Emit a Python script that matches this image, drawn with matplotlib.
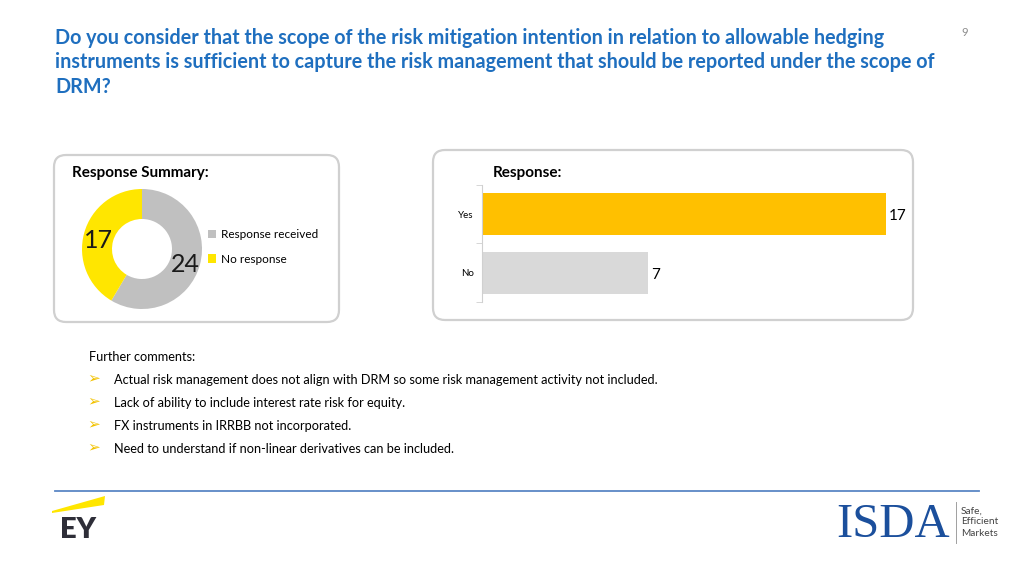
import matplotlib
matplotlib.use("Agg")
import matplotlib.pyplot as plt
from matplotlib.patches import FancyBboxPatch, Polygon, Patch
from matplotlib.transforms import Affine2D

plt.rcParams['font.family'] = ['Lato', 'DejaVu Sans']

# data
title = ("Do you consider that the scope of the risk mitigation intention in relation to allowable hedging\n"
         "instruments is sufficient to capture the risk management that should be reported under the scope of\n"
         "DRM?")
summary_labels = ['Response received', 'No response']
summary_values = [24, 17]
summary_colors = ['#C0C0C0', '#FFE600']
resp_labels = ['Yes', 'No']
resp_values = [17, 7]
resp_colors = ['#FFC000', '#D9D9D9']
comments = [
    "Actual risk management does not align with DRM so some risk management activity not included.",
    "Lack of ability to include interest rate risk for equity.",
    "FX instruments in IRRBB not incorporated.",
    "Need to understand if non-linear derivatives can be included.",
]

W, H = 1024, 575
fig = plt.figure(figsize=(W / 100, H / 100), dpi=100)
# pixel coords from top-left
pix = Affine2D().scale(1 / 100.0).scale(1, -1).translate(0, H / 100.0) + fig.dpi_scale_trans


def fx(x):
    return x / W


def fy(y):
    return 1 - y / H


def ax_at(x0, y0, x1, y1):
    a = fig.add_axes([fx(x0), fy(y1), fx(x1) - fx(x0), fy(y0) - fy(y1)])
    a.patch.set_visible(False)
    return a


# title and page number
fig.text(fx(55), fy(28), title, color='#1F6FBF', fontsize=14.2, fontweight='bold',
         va='top', ha='left', linespacing=1.27)
fig.text(fx(965), fy(33), '9', color='#8C8C8C', fontsize=8, ha='center', va='center')

# boxes
for (x0, y0, x1, y1) in [(54, 155, 339, 322), (433, 150, 913, 320)]:
    box = FancyBboxPatch((x0, y0), x1 - x0, y1 - y0, boxstyle='round,pad=0,rounding_size=12',
                         transform=pix, facecolor='white', edgecolor='#D0D0D0', linewidth=1.6,
                         zorder=-5)
    fig.patches.append(box)

fig.text(fx(72), fy(173), 'Response Summary:', fontsize=11, fontweight='bold', va='center')
fig.text(fx(493), fy(173), 'Response:', fontsize=11, fontweight='bold', va='center')

# donut
ax1 = ax_at(82, 189, 202, 309)
total = sum(summary_values)
wedges, _, autotexts = ax1.pie(summary_values, colors=summary_colors, startangle=90, counterclock=False,
                               wedgeprops=dict(width=0.5, edgecolor='none'),
                               autopct=lambda p: f'{round(p * total / 100)}', pctdistance=0.75,
                               textprops=dict(fontsize=18, color='#1a1a1a'))
for t in autotexts:
    x, y = t.get_position()
    t.set_position((x, y - 0.06))
ax1.set_xlim(-1, 1)
ax1.set_ylim(-1, 1)
ax1.set_aspect('equal')
ax1.axis('off')
handles = [Patch(facecolor=c, edgecolor='none') for c in summary_colors]
fig.legend(handles, summary_labels, loc='upper left', bbox_to_anchor=(fx(208), fy(229)),
           frameon=False, fontsize=8.5, handlelength=0.7, handleheight=0.7, handletextpad=0.4,
           labelspacing=1.15, borderaxespad=0, borderpad=0)

# bar chart
ax2 = ax_at(482, 185, 910, 302)
ypos = list(range(len(resp_labels)))
bars = ax2.barh(ypos, resp_values, color=resp_colors, height=0.71)
ax2.set_xlim(0, 18)
ax2.set_ylim(len(resp_labels) - 0.5, -0.5)
ax2.set_yticks(ypos)
ax2.set_yticklabels(resp_labels, fontsize=7)
ax2.set_yticks([-0.5, 0.5, 1.5], minor=True)
ax2.tick_params(axis='y', which='major', length=0, pad=6)
ax2.tick_params(axis='y', which='minor', length=4, color='#D0D0D0')
ax2.set_xticks([])
for s in ['top', 'right', 'bottom']:
    ax2.spines[s].set_visible(False)
ax2.spines['left'].set_color('#D0D0D0')
for b, v in zip(bars, resp_values):
    ax2.text(v + 0.12, b.get_y() + b.get_height() / 2 + 0.03, str(v), fontsize=11, va='center', ha='left')

# comments
fig.text(fx(89), fy(357), 'Further comments:', fontsize=9.2, va='center')
for i, c in enumerate(comments):
    y = 380 + 23 * i
    fig.text(fx(94), fy(y - 2), '\u27a2', fontsize=11, color='#F2C200', va='center', ha='center',
             family=['DejaVu Sans'])
    fig.text(fx(114), fy(y), c, fontsize=9.2, va='center')

# footer line
fig.add_artist(plt.Line2D([fx(55), fx(979)], [fy(491), fy(491)], color='#5B87C5', linewidth=1.3))

# EY logo
fig.patches.append(Polygon([(52, 511), (105, 496), (104, 505), (52, 513)], closed=True,
                           transform=pix, facecolor='#FFE600', edgecolor='none'))
fig.text(fx(60), fy(530), 'EY', fontsize=21, fontweight='heavy', color='#2E2E38', va='center', ha='left')

# ISDA logo
fig.text(fx(836), fy(525), 'ISDA', fontsize=35, family=['Liberation Serif'], color='#1B4F9C',
         va='center', ha='left')
fig.add_artist(plt.Line2D([fx(956), fx(956)], [fy(502), fy(543)], color='#A0A0A0', linewidth=0.7))
fig.text(fx(961), fy(522), 'Safe,\nEfficient\nMarkets', fontsize=7.3, color='#444444',
         va='center', ha='left', linespacing=1.3)

fig.savefig('out.png', dpi=100)
